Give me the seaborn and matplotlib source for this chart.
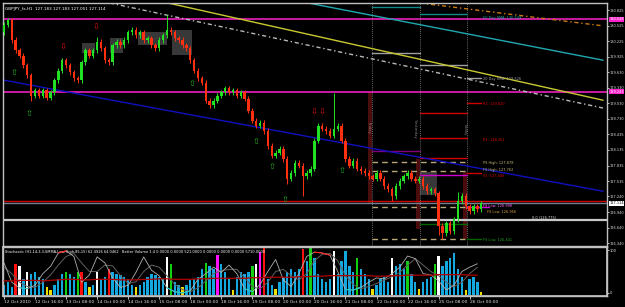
import numpy as np
import matplotlib
matplotlib.use("Agg")
import matplotlib.pyplot as plt
from matplotlib.patches import Rectangle
import seaborn as sns

sns.set_theme(style="dark")
plt.rcParams["font.family"] = ["DejaVu Sans"]

# ---------------- data (2-hour bins, GBPJPY H1 chart) ----------------
closes = [130.54, 130.63, 130.25, 130.05, 129.95, 129.76, 129.57, 129.18, 129.28, 129.18,
          129.28, 129.14, 129.24, 129.47, 129.66, 129.86, 129.76, 129.63, 129.51, 129.47,
          129.82, 130.05, 129.95, 130.05, 130.21, 130.09, 129.86, 129.82, 130.15, 130.21,
          130.15, 130.25, 130.40, 130.44, 130.34, 130.40, 130.25, 130.28, 130.15, 130.09,
          130.25, 130.34, 130.44, 130.40, 130.28, 130.25, 130.15, 130.09, 129.86, 129.66,
          129.51, 129.43, 129.08, 128.99, 129.08, 129.18, 129.24, 129.32, 129.24, 129.28,
          129.18, 129.24, 129.12, 128.89, 128.70, 128.60, 128.66, 128.50, 128.21, 128.02,
          128.08, 128.16, 127.96, 127.58, 127.69, 127.89, 127.83, 127.63, 127.69, 127.77,
          128.31, 128.60, 128.54, 128.50, 128.41, 128.54, 128.60, 128.31, 127.96, 127.83,
          127.92, 127.77, 127.73, 127.69, 127.63, 127.58, 127.69, 127.58, 127.44, 127.38,
          127.25, 127.44, 127.54, 127.63, 127.69, 127.58, 127.54, 127.58, 127.44, 127.34,
          127.38, 127.30, 126.67, 126.53, 126.72, 126.57, 126.80, 127.15, 127.25, 127.05,
          126.96, 127.05, 127.00, 127.11]
first_open = 130.40
wick = 0.05
spike_high = {42: 130.73, 85: 129.23, 117: 127.33, 24: 130.30}
spike_low = {7: 129.08, 73: 127.48, 77: 127.25, 100: 127.15, 112: 126.50, 113: 126.42}

volume = [20, 25, 15, 60, 55, 30, 45, 40, 45, 35,
          30, 15, 10, 20, 30, 40, 45, 40, 35, 45,
          45, 25, 15, 20, 45, 30, 35, 50, 45, 40,
          38, 35, 30, 20, 15, 20, 25, 35, 40, 38,
          35, 30, 72, 60, 25, 20, 15, 20, 30, 30,
          35, 50, 62, 55, 50, 76, 60, 45, 30, 10,
          35, 45, 40, 45, 55, 60, 83, 100, 30, 20,
          12, 25, 35, 45, 50, 45, 50, 88, 65, 95,
          70, 40, 30, 25, 30, 85, 40, 65, 85, 55,
          45, 70, 50, 40, 30, 12, 20, 30, 35, 25,
          70, 55, 60, 50, 65, 40, 25, 12, 25, 30,
          35, 60, 75, 55, 65, 70, 80, 50, 35, 10,
          30, 35, 25, 5]
vol_kind = ("bbbrwbwbbb" "byybbbgbbg" "rbybwbbrbb" "bbbbybbbbb" "bbwgbbybbb"
            "bbgbbmbbby" "bbbbgwmrbb" "ybbbbbbrbg" "bbbbbwbbbb" "bgbbbybbbb"
            "wbbbgbbybb" "bgwbbbbbby" "bbby")
vol_ma = [27, 27, 28, 28, 28, 27, 28, 29, 30, 30, 29, 29, 30, 30, 30, 29, 29, 29, 30, 30,
          31, 31, 30, 30, 30, 31, 31, 32, 32, 32, 32, 32, 33, 33, 34, 34, 34, 34, 35, 35,
          36, 36, 37, 37, 37, 37, 37, 37, 36, 36, 37, 37, 38, 38, 38, 38, 39, 39, 39, 39,
          38, 38]
stoch_main = [70, 25, 12, 10, 18, 45, 62, 93, 98, 85, 25, 42, 84, 70, 35, 13, 18, 48, 84, 53,
              40, 12, 3, 0, 5, 32, 45, 60, 48, 65, 45, 10, 3, 20, 50, 78, 30, 15, 45, 85,
              95, 93, 88, 50, 8, 7, 13, 25, 35, 33, 45, 60, 86, 80, 45, 42, 28, 7, 18, 50,
              60, 68]
stoch_signal = [60, 45, 25, 15, 13, 25, 42, 65, 85, 92, 70, 50, 50, 65, 63, 40, 22, 26, 50, 65,
                60, 40, 20, 8, 3, 12, 28, 45, 52, 55, 55, 35, 15, 10, 25, 50, 55, 40, 30, 45,
                75, 90, 92, 75, 40, 20, 10, 15, 22, 30, 38, 48, 65, 80, 65, 50, 40, 25, 15, 25,
                45, 60]
date_labels = ["12 Oct 2010", "12 Oct 16:00", "13 Oct 08:00", "14 Oct 00:00", "14 Oct 16:00",
               "15 Oct 08:00", "18 Oct 00:00", "18 Oct 16:00", "19 Oct 08:00", "20 Oct 00:00",
               "20 Oct 16:00", "21 Oct 08:00", "22 Oct 00:00", "22 Oct 16:00", "25 Oct 08:00",
               "26 Oct 00:00"]
price_ticks = [130.825, 130.525, 130.225, 129.925, 129.630, 129.330, 129.030, 128.730,
               128.435, 128.135, 127.835, 127.535, 127.240, 126.940, 126.640, 126.340]

# trend lines: (bar0, price0, bar1, price1, colour, style)
trend_lines = [(-0.3, 129.48, 154.4, 127.34, "#1010C0", "-"),
               (27.3, 130.96, 154.4, 128.94, "#B8B8B8", (0, (3, 2, 1, 2))),
               (42.3, 130.96, 154.4, 129.09, "#C8C832", "-"),
               (78.4, 130.96, 154.4, 129.86, "#20A8B0", "-"),
               (107.2, 130.96, 154.4, 130.52, "#C87814", (0, (3, 2, 1, 2)))]
# horizontal full-width levels
h_levels = [(130.65, "#FF22CC", 1.1), (129.25, "#FF22CC", 1.1),
            (127.15, "#D00000", 1.0), (127.11, "#708090", 1.0), (126.79, "#C8C8C8", 1.6)]
day_sep = [94.8, 107.2, 119.3]
# pivot segments: (bar0, bar1, price, colour, style)
segments = [(94.8, 107.2, 130.88, "#108888", "-"), (107.2, 119.3, 130.75, "#108888", "-"),
            (94.8, 107.2, 130.00, "#A0A0A0", "-"), (107.2, 119.3, 129.77, "#A0A0A0", "-"),
            (119.3, 123.0, 129.52, "#A0A0A0", "-"),
            (119.3, 123.0, 129.03, "#D00000", "-"), (107.2, 119.3, 128.84, "#D00000", "-"),
            (107.2, 119.3, 128.37, "#D00000", "-"), (107.2, 119.3, 127.98, "#D00000", "-"),
            (119.3, 123.0, 127.69, "#D00000", "-"),
            (94.8, 107.2, 128.11, "#800080", "-"),
            (94.8, 119.3, 127.90, "#B8A878", (0, (4, 3))), (94.8, 119.3, 127.72, "#B8A878", (0, (4, 3))),
            (94.8, 119.3, 127.03, "#B8A878", (0, (4, 3))), (94.8, 119.3, 126.42, "#B8A878", (0, (4, 3))),
            (107.2, 119.3, 127.65, "#D000D0", "-"), (119.3, 125.0, 127.03, "#D000D0", "-"),
            (107.2, 119.3, 126.71, "#006400", "-"), (119.3, 123.0, 126.42, "#006400", "-")]
level_texts = [(123.5, 130.67, "50 Day SMA: 130.549", "#20B0B0"),
               (123.5, 129.49, "20 Day SMA: 129.526", "#A0A0A0"),
               (123.5, 129.01, "R2: 129.020", "#E00000"),
               (123.5, 128.33, "R1: 128.351", "#E00000"),
               (123.5, 127.88, "PS High: 127.878", "#C8B878"),
               (123.5, 127.74, "FS High: 127.762", "#C8B878"),
               (123.5, 127.63, "S1: 127.645", "#E00000"),
               (123.5, 127.05, "FS Low: 126.998", "#FF66FF"),
               (124.5, 126.95, "FS Low: 126.956", "#D8A040"),
               (136.0, 126.82, "0.0 (126.775)", "#E0E0E0"),
               (123.5, 126.40, "FS Low: 126.441", "#20A020")]
shade_bars = [(93.9, 94.9, 127.10, 129.25), (106.2, 107.2, 126.62, 127.96), (118.3, 119.3, 126.42, 127.71)]
boxes = [(27.3, 30.7, 130.00, 130.29), (34.5, 42.0, 130.15, 130.40), (43.3, 48.5, 129.96, 130.44),
         (20.0, 23.5, 130.00, 130.20), (106.4, 111.6, 127.27, 127.71)]
up_arrows_bar = [2.6, 6.4, 48.5, 64.9, 69.1, 72.4, 87.1]
up_arrows_price = [129.63, 128.84, 129.42, 128.29, 127.81, 127.19, 127.73]
dn_arrows_bar = [15.2, 23.7, 79.9, 82.0]
dn_arrows_price = [130.11, 130.50, 128.86, 128.86]

# ---------------- figure ----------------
W, H = 625, 307
fig = plt.figure(figsize=(W / 100, H / 100), dpi=100, facecolor="black")
ax = fig.add_axes([3 / W, (H - 246) / H, 604 / W, 243 / H])
axv = fig.add_axes([3 / W, (H - 296) / H, 604 / W, 49 / H], sharex=ax)
axs = axv.twinx()

for a in (ax, axv):
    a.set_facecolor("black")
    for s in a.spines.values():
        s.set_color("#C0C0C0")
        s.set_linewidth(1.0)
axs.patch.set_visible(False)
for s in axs.spines.values():
    s.set_color("#C0C0C0")

n = len(closes)
bars = np.arange(n)
c = np.array(closes)
o = np.concatenate([[first_open], c[:-1]])
hi = np.maximum(o, c) + wick
lo = np.minimum(o, c) - wick
for k, v in spike_high.items():
    hi[k] = v
for k, v in spike_low.items():
    lo[k] = v

x_lo, x_hi = -0.26, 155.4
ax.set_xlim(x_lo, x_hi)
ax.set_ylim(126.287, 130.96)

# background boxes
for b0, b1, p0, p1 in boxes:
    ax.add_patch(Rectangle((b0, p0), b1 - b0, p1 - p0, color="#383838", zorder=1, lw=0))
for b0, b1, p0, p1 in shade_bars:
    ax.add_patch(Rectangle((b0, p0), b1 - b0, p1 - p0, color="#4a0c0c", zorder=1, lw=0))

# horizontal levels
for p, col, lw in h_levels:
    ax.axhline(p, color=col, lw=lw, zorder=2)
for xb in day_sep:
    ax.axvline(xb, color="#909090", lw=0.6, ls=(0, (1, 1.5)), zorder=2)
for b0, b1, p, col, st in segments:
    ax.plot([b0, b1], [p, p], color=col, lw=1.0, ls=st, zorder=2)
for b0, p0, b1, p1, col, st in trend_lines:
    ax.plot([b0, b1], [p0, p1], color=col, lw=1.0, ls=st, zorder=2)

# candles
up = c >= o
colors = np.where(up, "#22E022", "#FF3010")
ax.vlines(bars, lo, hi, colors=colors, lw=0.7, zorder=3)
ax.bar(bars, np.maximum(np.abs(c - o), 0.012), bottom=np.minimum(o, c), width=0.62,
       color=colors, linewidth=0, zorder=4)

# arrows
for b, p in zip(up_arrows_bar, up_arrows_price):
    ax.text(b, p, "\u21e7", color="#22B022", fontsize=6, ha="center", va="center", zorder=5)
for b, p in zip(dn_arrows_bar, dn_arrows_price):
    ax.text(b, p, "\u21e9", color="#E01010", fontsize=6, ha="center", va="center", zorder=5)

for b, p, t, col in level_texts:
    ax.text(b, p, t, color=col, fontsize=2.5, ha="left", va="center", zorder=6)
ax.text(94.0, 128.55, "Friday", color="#808080", fontsize=2.8, rotation=270, ha="center", va="center")
ax.text(105.8, 128.55, "Yesterday", color="#808080", fontsize=2.8, rotation=270, ha="center", va="center")
ax.text(118.7, 128.55, "Today", color="#808080", fontsize=2.8, rotation=270, ha="center", va="center")

ax.text(0.003, 0.985, "GBPJPY_fx,H1  127.183 127.183 127.051 127.114", transform=ax.transAxes,
        color="white", fontsize=3.0, ha="left", va="top")

# right price axis
ax.yaxis.tick_right()
ax.set_yticks(price_ticks)
ax.set_yticklabels([f"{p:.3f}" for p in price_ticks])
ax.tick_params(axis="y", colors="#E0E0E0", labelsize=2.55, length=1.5, width=0.6, pad=0.6)
ax.tick_params(axis="x", bottom=False, labelbottom=False)
ytr = ax.get_yaxis_transform()
for p, t, fc, tc in [(130.65, "130.648", "#FF22CC", "white"), (129.25, "129.243", "#FF22CC", "white"),
                     (127.11, "127.114", "white", "black")]:
    ax.text(1.004, p, t, transform=ytr, fontsize=2.55, color=tc, ha="left", va="center",
            bbox=dict(boxstyle="square,pad=0.12", fc=fc, ec="none"), clip_on=False, zorder=7)
ax.grid(False)

# ---------------- lower panel ----------------
kind_color = {"b": "#14A8E0", "y": "#F0E000", "w": "#FFFFFF", "r": "#FF1010", "g": "#10D010",
              "m": "#FF10FF"}
axv.bar(bars, volume, width=0.6, color=[kind_color[k] for k in vol_kind], linewidth=0, zorder=2)
vol_top = 92
axv.set_ylim(-2, vol_top)
axv.set_yticks([])
axv.grid(False)

kx = np.arange(len(stoch_main)) * 2
sm = np.array(stoch_main, dtype=float)
sns.lineplot(x=kx, y=stoch_signal, ax=axs, color="#606060", lw=0.7, zorder=3)
sns.lineplot(x=kx, y=sm, ax=axs, color="#B0B0B0", lw=0.6, zorder=4)
axs.plot(kx, np.where(sm > 85, sm, np.nan), color="#FF2020", lw=0.8, zorder=5)
axs.plot(kx, np.where(sm < 15, sm, np.nan), color="#20C8C8", lw=0.8, zorder=5)
# volume MA drawn in stochastic units so it sits over the volume bars
scale = 114 / (vol_top + 2)
sns.lineplot(x=kx, y=[(v + 2) * scale - 7 for v in vol_ma], ax=axs, color="#B00000", lw=0.9, zorder=5)
axs.set_ylim(-7, 107)
axs.set_yticks([0, 100])
axs.set_yticklabels(["0", "100"])
axs.tick_params(axis="y", colors="#E0E0E0", labelsize=2.6, length=1.5, width=0.6, pad=0.6)
axs.set_ylabel("")
axs.grid(False)
axs.text(0.003, 0.93, "Stochastic (H1,14,3,3,SMMA,Low/High,85,15) 62.4926 64.0462   Better Volume 1.4 "
         "0.0000 0.0000 521.0000 0.0000 0.0000 0.0000 5710.0000",
         transform=axs.transAxes, color="white", fontsize=2.6, ha="left", va="top")

axv.set_xlim(x_lo, x_hi)
axv.set_xticks([8 * i for i in range(len(date_labels))])
axv.set_xticklabels(date_labels)
axv.tick_params(axis="x", colors="#E0E0E0", labelsize=3.2, length=2, width=0.6, pad=0.8, bottom=True)
for lab in axv.get_xticklabels():
    lab.set_ha("left")
axs.tick_params(axis="x", bottom=False)

fig.savefig("out.png", dpi=100, facecolor="black")
